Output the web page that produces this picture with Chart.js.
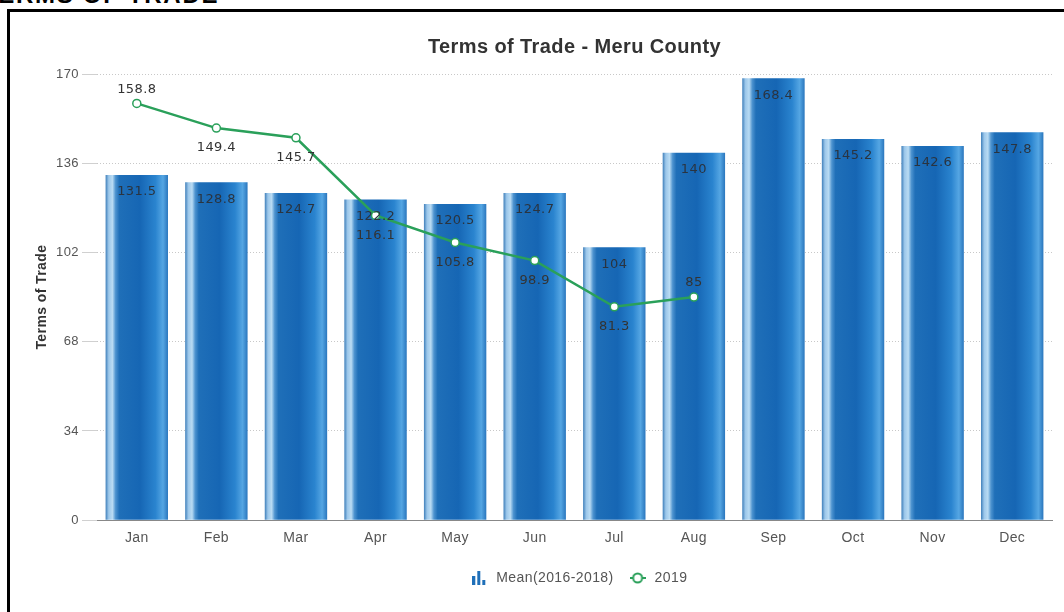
<!DOCTYPE html>
<html>
<head>
<meta charset="utf-8">
<script src="https://cdn.jsdelivr.net/npm/chart.js@4/dist/chart.umd.min.js"></script>
<style>
  html, body { margin: 0; padding: 0; background: #fff; width: 1064px; height: 612px; overflow: hidden; }
  #entete { position: absolute; left: -18px; top: -19px; font: bold 24px "Liberation Sans", Arial, sans-serif; color: #000; letter-spacing: 1.7px; }
  #cadre { position: absolute; left: 7px; top: 9px; width: 1100px; height: 700px; border: 3px solid #000; }
  #zone { position: absolute; left: 10px; top: 12px; width: 1054px; height: 600px; }
</style>
</head>
<body>
<div id="entete">TERMS OF TRADE</div>
<div id="cadre"></div>
<div id="zone"><canvas id="graphiqueTermes"></canvas></div>
<script>
// Données
const mois = ['Jan', 'Feb', 'Mar', 'Apr', 'May', 'Jun', 'Jul', 'Aug', 'Sep', 'Oct', 'Nov', 'Dec'];
const moyenne20162018 = [131.5, 128.8, 124.7, 122.2, 120.5, 124.7, 104, 140, 168.4, 145.2, 142.6, 147.8];
const valeurs2019 = [158.8, 149.4, 145.7, 116.1, 105.8, 98.9, 81.3, 85, null, null, null, null];
const positionEtiquettes2019 = ['haut', 'bas', 'bas', 'bas', 'bas', 'bas', 'bas', 'haut'];
const ticksY = [0, 34, 68, 102, 136, 170];

const policeAxe = '"Liberation Sans", Arial, sans-serif';
const vert = '#2aa05a';

// Icône de légende : trois petites barres
function iconeBarres() {
    const c = document.createElement('canvas');
    c.width = 14; c.height = 14;
    const g = c.getContext('2d');
    g.fillStyle = '#1f6fb8';
    g.fillRect(0, 5, 3, 9);
    g.fillRect(5, 0, 3, 14);
    g.fillRect(10, 9, 3, 5);
    return c;
}

// Icône de légende : ligne + cercle
function iconeLigne() {
    const c = document.createElement('canvas');
    c.width = 16; c.height = 12;
    const g = c.getContext('2d');
    g.strokeStyle = vert;
    g.lineWidth = 2;
    g.beginPath(); g.moveTo(0, 6); g.lineTo(16, 6); g.stroke();
    g.fillStyle = '#fff';
    g.beginPath(); g.arc(8, 6, 4.5, 0, Math.PI * 2); g.fill(); g.stroke();
    return c;
}

// Dégradé horizontal façon cylindre pour chaque barre
function degradeBarre(ctx) {
    const chart = ctx.chart;
    const zone = chart.chartArea;
    const echelleX = chart.scales.x;
    if (!zone || !echelleX) return '#1a6bb8';
    const centre = echelleX.getPixelForValue(ctx.dataIndex);
    const demi = (zone.width / mois.length) * 0.8 * 0.98 / 2;
    const g = chart.ctx.createLinearGradient(centre - demi, 0, centre + demi, 0);
    g.addColorStop(0.00, '#3f7fba');
    g.addColorStop(0.05, '#9cc7ea');
    g.addColorStop(0.11, '#b9dbf3');
    g.addColorStop(0.16, '#4d93cf');
    g.addColorStop(0.22, '#1f6fb8');
    g.addColorStop(0.55, '#1666b4');
    g.addColorStop(0.80, '#2a84cf');
    g.addColorStop(0.92, '#55a6e3');
    g.addColorStop(1.00, '#2a76bd');
    return g;
}

// Étiquettes de valeurs (barres et ligne)
const pluginEtiquettes = {
    id: 'etiquettesValeurs',
    afterDatasetsDraw(chart) {
        const ctx = chart.ctx;
        ctx.save();
        ctx.textAlign = 'center';
        ctx.textBaseline = 'middle';
        ctx.font = '13px "DejaVu Sans", Verdana, sans-serif';

        const barres = chart.getDatasetMeta(0).data;
        ctx.fillStyle = '#2a3440';
        barres.forEach((b, i) => {
            ctx.fillText(String(moyenne20162018[i]), b.x, b.y + 17);
        });

        const points = chart.getDatasetMeta(1).data;
        ctx.fillStyle = '#333';
        points.forEach((p, i) => {
            if (valeurs2019[i] === null) return;
            const dy = positionEtiquettes2019[i] === 'haut' ? -14 : 20;
            ctx.fillText(String(valeurs2019[i]), p.x, p.y + dy);
        });
        ctx.restore();
    }
};

// Léger espacement des lettres (le texte de la référence est plus large)
const pluginEspacement = {
    id: 'espacementLettres',
    beforeInit(chart) { chart.ctx.letterSpacing = '0.4px'; },
    beforeDraw(chart) { chart.ctx.letterSpacing = '0.4px'; }
};

const ctxGraph = document.getElementById('graphiqueTermes').getContext('2d');

new Chart(ctxGraph, {
    data: {
        labels: mois,
        datasets: [
            {
                type: 'bar',
                label: 'Mean(2016-2018)',
                data: moyenne20162018,
                backgroundColor: degradeBarre,
                borderWidth: 0,
                categoryPercentage: 0.8,
                barPercentage: 0.98,
                order: 2
            },
            {
                type: 'line',
                label: '2019',
                data: valeurs2019,
                borderColor: vert,
                borderWidth: 2.5,
                pointRadius: 4,
                pointBorderWidth: 1.5,
                pointBackgroundColor: '#fff',
                pointBorderColor: vert,
                tension: 0,
                spanGaps: false,
                order: 1
            }
        ]
    },
    options: {
        responsive: true,
        maintainAspectRatio: false,
        animation: false,
        layout: { padding: { left: 24, right: 12, top: 0, bottom: 17 } },
        plugins: {
            title: {
                display: true,
                fullSize: false,
                text: 'Terms of Trade - Meru County',
                color: '#333',
                font: { family: policeAxe, size: 20, weight: 'bold' },
                padding: { top: 23, bottom: 15 }
            },
            legend: {
                position: 'bottom',
                fullSize: false,
                labels: {
                    usePointStyle: true,
                    pointStyleWidth: 20,
                    color: '#555',
                    font: { family: policeAxe, size: 14 },
                    padding: 14,
                    generateLabels: () => [
                        { text: 'Mean(2016-2018)', pointStyle: iconeBarres(), fontColor: '#555', hidden: false, datasetIndex: 0, lineWidth: 0 },
                        { text: '2019', pointStyle: iconeLigne(), fontColor: '#555', hidden: false, datasetIndex: 1, lineWidth: 0 }
                    ]
                }
            },
            tooltip: { enabled: false }
        },
        scales: {
            x: {
                grid: { display: false, drawTicks: false },
                border: { display: true, color: '#888', width: 1 },
                ticks: { color: '#555', font: { family: policeAxe, size: 14 }, padding: 10 }
            },
            y: {
                min: 0,
                max: 170,
                afterBuildTicks: (axe) => { axe.ticks = ticksY.map(v => ({ value: v })); },
                afterFit: (axe) => { axe.width = 63; },
                grid: {
                    color: '#c8c8c8',
                    lineWidth: 1,
                    tickLength: 15,
                    tickColor: '#d0d0d0'
                },
                border: { display: false, dash: [1, 2] },
                ticks: { color: '#555', font: { family: policeAxe, size: 13 }, padding: 3 },
                title: {
                    display: true,
                    text: 'Terms of Trade',
                    color: '#333',
                    font: { family: policeAxe, size: 14, weight: 'bold' },
                    padding: { top: 0, bottom: 4 }
                }
            }
        }
    },
    plugins: [pluginEtiquettes, pluginEspacement]
});
</script>
</body>
</html>
